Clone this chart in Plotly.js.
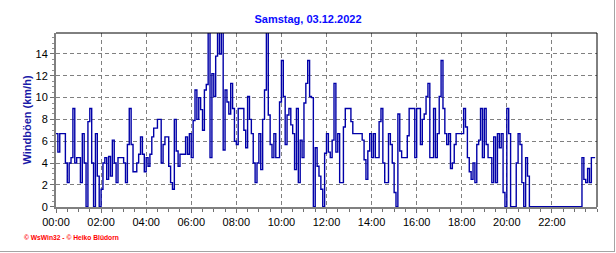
<!DOCTYPE html>
<html>
<head>
<meta charset="utf-8">
<script src="https://cdn.plot.ly/plotly-3.0.1.min.js"></script>
<style>
  html, body { margin: 0; padding: 0; background: #ffffff; }
  #wrap { position: relative; width: 616px; height: 253px; overflow: hidden; }
  #chart { position: absolute; left: 0; top: 0; width: 616px; height: 253px; }
  #frame { position: absolute; left: 0; top: 0; width: 614px; height: 251px;
           border-right: 1px solid #a4a4a4; border-bottom: 1px solid #a4a4a4; pointer-events: none; }
</style>
</head>
<body>
<div id="wrap"><div id="chart"></div><div id="frame"></div></div>
<script>
// Title and labels
const chartTitle = 'Samstag, 03.12.2022';
const yAxisLabel = 'Windböen (km/h)';
const copyrightText = '© WsWin32 - © Heiko Blüdorn';

// 5-minute samples starting 00:00
const intervalMinutes = 5;

// Wind gust values (km/h), one per 5 minutes
const gusts = [
  6.7, 5.0, 6.7, 6.7, 6.7, 4.0, 2.2, 4.0, 4.5, 9.0, 4.0, 4.5,
  4.5, 2.2, 6.7, 4.0, 0.0, 7.8, 9.0, 4.0, 0.0, 6.7, 2.8, 0.0,
  1.6, 4.0, 4.5, 2.5, 4.6, 2.8, 6.1, 4.0, 2.2, 4.5, 4.5, 4.5,
  4.0, 2.2, 5.7, 9.0, 5.7, 3.2, 3.2, 4.0, 4.8, 6.4, 4.8, 3.2,
  4.5, 3.7, 4.8, 6.4, 7.2, 7.2, 8.0, 8.0, 4.0, 5.7, 6.4, 6.4,
  3.7, 2.2, 1.6, 8.0, 5.1, 3.7, 4.8, 4.8, 4.8, 6.4, 4.8, 6.7,
  4.5, 7.9, 10.7, 8.0, 10.0, 8.9, 7.0, 10.7, 11.2, 16.2, 4.5, 12.2,
  10.1, 13.8, 16.2, 14.0, 16.2, 5.2, 10.7, 9.6, 8.5, 11.3, 9.0, 6.0,
  5.7, 9.0, 9.0, 9.0, 7.0, 5.4, 10.1, 8.0, 6.7, 4.0, 2.2, 4.0,
  6.7, 3.4, 8.0, 10.7, 16.2, 8.4, 5.7, 4.5, 6.7, 4.5, 4.5, 9.6,
  13.4, 10.1, 5.7, 8.4, 9.0, 7.5, 6.7, 3.4, 9.0, 2.2, 6.1, 4.5,
  9.5, 11.3, 13.4, 10.1, 10.0, 0.0, 5.4, 3.7, 2.8, 1.6, 0.0, 4.9,
  6.7, 5.0, 4.5, 6.1, 11.3, 5.0, 6.7, 2.2, 2.2, 7.3, 9.0, 9.0,
  9.0, 7.8, 6.7, 6.7, 6.7, 6.7, 6.7, 6.1, 4.3, 2.5, 5.1, 6.7,
  4.5, 6.7, 4.5, 4.5, 7.8, 9.0, 4.0, 2.2, 2.2, 6.7, 5.7, 4.0,
  1.3, 0.0, 8.5, 5.1, 4.5, 4.5, 4.5, 6.5, 9.0, 9.0, 9.0, 4.5,
  9.0, 9.0, 5.7, 8.0, 8.5, 10.1, 11.3, 4.5, 4.5, 9.0, 4.5, 6.7,
  10.1, 13.4, 9.0, 6.7, 5.7, 6.7, 3.5, 4.0, 5.7, 6.7, 6.7, 6.7,
  6.7, 9.0, 7.3, 4.5, 3.2, 2.5, 4.0, 2.2, 5.7, 6.1, 9.0, 4.5,
  9.0, 5.7, 4.5, 4.5, 2.2, 6.4, 2.2, 6.7, 5.4, 6.7, 1.3, 0.0,
  9.0, 6.7, 0.0, 0.0, 0.0, 4.0, 6.7, 5.7, 2.2, 0.0, 4.5, 2.8,
  0.0, 0.0, 0.0, 0.0, 0.0, 0.0, 0.0, 0.0, 0.0, 0.0, 0.0, 0.0,
  0.0, 0.0, 0.0, 0.0, 0.0, 0.0, 0.0, 0.0, 0.0, 0.0, 0.0, 0.0,
  0.0, 0.0, 0.0, 0.0, 4.5, 2.5, 2.2, 3.5, 2.2, 4.5, 4.5, 4.5
];

// Axis ticks
const xTickVals = [0, 2, 4, 6, 8, 10, 12, 14, 16, 18, 20, 22];
const xTickText = ['00:00', '02:00', '04:00', '06:00', '08:00', '10:00',
                   '12:00', '14:00', '16:00', '18:00', '20:00', '22:00'];
const yTickVals = [0, 2, 4, 6, 8, 10, 12, 14];
const yTickText = ['0', '2', '4', '6', '8', '10', '12', '14'];

const hours = gusts.map((_, i) => i * intervalMinutes / 60);

const font = 'Liberation Sans, Arial, sans-serif';

const trace = {
  x: hours,
  y: gusts,
  type: 'scatter',
  mode: 'lines',
  line: { shape: 'hv', color: '#0000a8', width: 1.4 },
  hoverinfo: 'skip'
};

const layout = {
  width: 616,
  height: 253,
  margin: { l: 56, r: 19, t: 33, b: 46, pad: 0 },
  paper_bgcolor: '#ffffff',
  plot_bgcolor: '#ffffff',
  showlegend: false,
  title: {
    text: chartTitle,
    font: { family: font, size: 11, weight: 'bold', color: '#0a0aff' },
    x: 0.5, xref: 'container', xanchor: 'center',
    y: 0.925, yref: 'container', yanchor: 'middle'
  },
  xaxis: {
    range: [0, 24],
    tickvals: xTickVals,
    ticktext: xTickText,
    tickfont: { family: font, size: 11, color: '#000000' },
    ticks: 'outside', ticklen: 4, tickwidth: 1, tickcolor: '#707070',
    showline: true, linecolor: '#808080', linewidth: 2,
    showgrid: true, gridcolor: '#808080', gridwidth: 1, griddash: '4px,3px',
    zeroline: false,
    minor: { dtick: 0.5, ticks: 'outside', ticklen: 3, tickwidth: 1, tickcolor: '#707070', showgrid: false },
    fixedrange: true
  },
  yaxis: {
    range: [-0.03, 15.92],
    tickvals: yTickVals,
    ticktext: yTickText,
    tickfont: { family: font, size: 11, color: '#000000' },
    ticks: 'outside', ticklen: 4, tickwidth: 1, tickcolor: '#707070',
    showline: true, linecolor: '#808080', linewidth: 2,
    showgrid: true, gridcolor: '#808080', gridwidth: 1, griddash: '4px,3px',
    zeroline: false,
    minor: { dtick: 0.5, ticks: 'outside', ticklen: 2, tickwidth: 1, tickcolor: '#909090', showgrid: false },
    title: {
      text: yAxisLabel,
      font: { family: font, size: 11, weight: 'bold', color: '#1a1aa8' },
      standoff: 2
    },
    fixedrange: true
  },
  shapes: [
    { type: 'line', xref: 'paper', yref: 'paper', x0: 0, x1: 1, y0: 1, y1: 1,
      line: { color: '#000000', width: 1 } },
    { type: 'line', xref: 'paper', yref: 'paper', x0: 1, x1: 1, y0: 0, y1: 1,
      line: { color: '#000000', width: 1 } }
  ],
  annotations: [
    { text: copyrightText, xref: 'paper', yref: 'paper',
      x: -0.063, y: -0.178, xanchor: 'left', yanchor: 'middle', showarrow: false,
      font: { family: font, size: 6.7, weight: 'bold', color: '#ff0000' } }
  ]
};

Plotly.newPlot('chart', [trace], layout, { displayModeBar: false, staticPlot: true });
</script>
</body>
</html>
